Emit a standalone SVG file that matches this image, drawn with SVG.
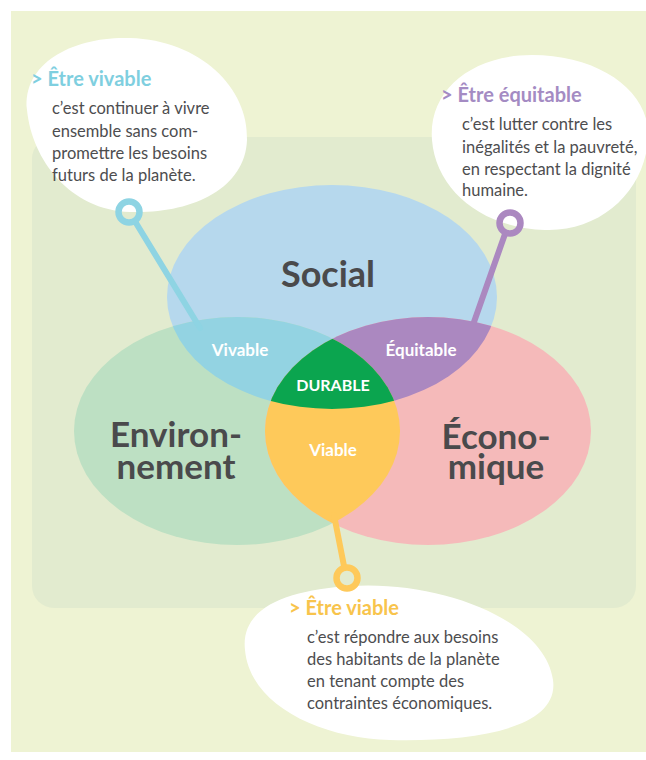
<svg xmlns="http://www.w3.org/2000/svg" width="646" height="760" viewBox="0 0 646 760">
<defs>
<style>
.big{font-family:Lato,"Open Sans",sans-serif;font-weight:bold;fill:#4a4a4c;text-anchor:middle}
.lab{font-family:Lato,"Open Sans",sans-serif;font-weight:bold;fill:#ffffff;text-anchor:middle}
.ttl{font-family:Lato,"Open Sans",sans-serif;font-weight:bold;font-size:20px}
.body{font-family:Lato,"Open Sans",sans-serif;font-size:16.5px;fill:#4d4d4f}
.bub{fill:#ffffff}
.ring{fill:none;stroke-width:6.5}
.stem{stroke-width:6;stroke-linecap:round;fill:none}
</style>
<clipPath id="cBlue"><ellipse cx="332" cy="297" rx="165" ry="112"/></clipPath>
<clipPath id="cGreen"><ellipse cx="237" cy="431" rx="163" ry="114"/></clipPath>
<clipPath id="cPink"><ellipse cx="428" cy="431" rx="163" ry="114"/></clipPath>
</defs>
<rect x="0" y="0" width="646" height="760" fill="#ffffff"/>
<rect x="11" y="11" width="635" height="741" fill="#eef3d3"/>
<rect x="32" y="137" width="604" height="471" rx="22" fill="#e2ebcf"/>

<g id="venn">
<g id="social"><ellipse cx="332" cy="297" rx="165" ry="112" fill="#b6d8ed"/></g>
<g id="environnement"><ellipse cx="237" cy="431" rx="163" ry="114" fill="#bde0c3"/></g>
<g id="economique"><ellipse cx="428" cy="431" rx="163" ry="114" fill="#f5baba"/></g>
<g id="vivable"><g clip-path="url(#cGreen)"><ellipse cx="332" cy="297" rx="165" ry="112" fill="#93d3e2"/></g></g>
<g id="equitable"><g clip-path="url(#cPink)"><ellipse cx="332" cy="297" rx="165" ry="112" fill="#ab88c0"/></g></g>
<g id="viable"><g clip-path="url(#cPink)"><ellipse cx="237" cy="431" rx="163" ry="114" fill="#fec95a"/></g></g>
<g id="durable"><g clip-path="url(#cPink)"><g clip-path="url(#cBlue)"><ellipse cx="237" cy="431" rx="163" ry="114" fill="#0ba54f"/></g></g></g>
</g>

<g id="bubbles">
<g id="bubble-vivable"><path class="bub" d="M 27,110 C 22,62 75,36 130,38 C 200,40 249,88 247,140 C 245,190 190,214 130,212 C 70,210 32,160 27,110 Z"/></g>
<g id="bubble-equitable"><path class="bub" d="M 432,140 C 428,90 472,55 532,55 C 600,55 652,92 648,140 C 644,192 600,232 545,230 C 482,228 436,190 432,140 Z"/></g>
<g id="bubble-viable"><path class="bub" d="M 245,650 C 240,606 290,590 350,586 C 440,580 545,620 553,680 C 560,730 470,742 390,740 C 320,738 250,705 245,650 Z"/></g>
</g>

<g id="connectors">
<line class="stem" x1="136" y1="223" x2="200" y2="328" stroke="#8ed4e3"/>
<circle class="ring" cx="129" cy="212" r="10.5" stroke="#8ed4e3"/>
<line class="stem" x1="505" y1="234" x2="474" y2="322" stroke="#ab88c0"/>
<circle class="ring" cx="510" cy="223" r="10.5" stroke="#ab88c0"/>
<line class="stem" x1="334" y1="515" x2="344" y2="566" stroke="#fec95a"/>
<circle class="ring" cx="347" cy="578" r="10.5" stroke="#fec95a"/>
</g>

<g id="labels">
<text class="big" x="328" y="287" font-size="36">Social</text>
<text class="big" font-size="35"><tspan x="176" y="447">Environ-</tspan><tspan x="176" y="479">nement</tspan></text>
<text class="big" font-size="35"><tspan x="496" y="449">Écono-</tspan><tspan x="496" y="479">mique</tspan></text>
<text class="lab" x="240" y="356" font-size="17">Vivable</text>
<text class="lab" x="421" y="356" font-size="17">Équitable</text>
<text class="lab" x="333" y="391" font-size="16">DURABLE</text>
<text class="lab" x="333" y="456" font-size="17">Viable</text>
</g>

<g id="text-vivable">
<text class="ttl" x="31" y="86" fill="#7fcfdf">&gt; Être vivable</text>
<text class="body" x="52" y="114">c’est continuer à vivre</text>
<text class="body" x="52" y="137">ensemble sans com-</text>
<text class="body" x="52" y="159">promettre les besoins</text>
<text class="body" x="52" y="181">futurs de la planète.</text>
</g>
<g id="text-equitable">
<text class="ttl" x="441" y="102" fill="#a48bc3">&gt; Être équitable</text>
<text class="body" x="462" y="130">c’est lutter contre les</text>
<text class="body" x="462" y="153">inégalités et la pauvreté,</text>
<text class="body" x="462" y="175">en respectant la dignité</text>
<text class="body" x="462" y="196">humaine.</text>
</g>
<g id="text-viable">
<text class="ttl" x="289" y="615" fill="#f8c44c">&gt; Être viable</text>
<text class="body" x="307" y="643">c’est répondre aux besoins</text>
<text class="body" x="307" y="665">des habitants de la planète</text>
<text class="body" x="307" y="687">en tenant compte des</text>
<text class="body" x="307" y="709">contraintes économiques.</text>
</g>
</svg>
